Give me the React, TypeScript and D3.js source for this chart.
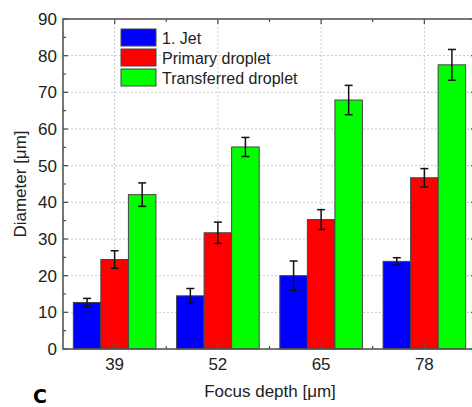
import React, { useEffect, useRef } from "react";
import * as d3 from "d3";

const categories = ["39", "52", "65", "78"];
const seriesNames = ["1. Jet", "Primary droplet", "Transferred droplet"];
const seriesColors = ["#0000ff", "#ff0000", "#00ff00"];
const jet = [12.7, 14.5, 20.0, 23.9];
const jetErr = [1.1, 2.0, 4.0, 1.0];
const primary = [24.4, 31.7, 35.3, 46.7];
const primaryErr = [2.4, 2.9, 2.7, 2.5];
const transferred = [42.1, 55.1, 67.9, 77.5];
const transferredErr = [3.2, 2.6, 4.0, 4.2];
const yTicks = [0, 10, 20, 30, 40, 50, 60, 70, 80, 90];

const App = () => {
  const svgRef = useRef<SVGSVGElement>(null);

  useEffect(() => {
    const svg = d3.select(svgRef.current);
    svg.selectAll("*").remove();

    const left = 63;
    const right = 476;
    const top = 19;
    const bottom = 349;
    const font = "'Liberation Sans', Arial, sans-serif";

    const x = d3
      .scaleBand()
      .domain(categories)
      .range([left, right])
      .paddingInner(0.2)
      .paddingOuter(0.1);
    const inner = d3
      .scaleBand()
      .domain(seriesNames)
      .range([0, x.bandwidth()]);
    const y = d3.scaleLinear().domain([0, 90]).range([bottom, top]);

    const values = [jet, primary, transferred];
    const errs = [jetErr, primaryErr, transferredErr];
    const center = (c) => x(c) + x.bandwidth() / 2;

    // grid
    const grid = svg.append("g");
    grid
      .selectAll(".hg")
      .data(yTicks.filter((t) => t > 0 && t < 90))
      .enter()
      .append("line")
      .attr("x1", left)
      .attr("x2", right)
      .attr("y1", (d) => y(d))
      .attr("y2", (d) => y(d))
      .attr("stroke", "#c8c8c8")
      .attr("stroke-dasharray", "2 2");
    grid
      .selectAll(".vg")
      .data(categories)
      .enter()
      .append("line")
      .attr("x1", (d) => center(d))
      .attr("x2", (d) => center(d))
      .attr("y1", top)
      .attr("y2", bottom)
      .attr("stroke", "#c8c8c8")
      .attr("stroke-dasharray", "2 2");

    // bars
    seriesNames.forEach((s, si) => {
      const g = svg.append("g");
      g.selectAll("rect")
        .data(categories)
        .enter()
        .append("rect")
        .attr("x", (c) => x(c) + inner(s))
        .attr("width", inner.bandwidth())
        .attr("y", (c, i) => y(values[si][i]))
        .attr("height", (c, i) => y(0) - y(values[si][i]))
        .attr("fill", seriesColors[si])
        .attr("stroke", "#444")
        .attr("stroke-width", 1);

      categories.forEach((c, i) => {
        const cx = x(c) + inner(s) + inner.bandwidth() / 2;
        const lo = y(values[si][i] - errs[si][i]);
        const hi = y(values[si][i] + errs[si][i]);
        g.append("line")
          .attr("x1", cx)
          .attr("x2", cx)
          .attr("y1", lo)
          .attr("y2", hi)
          .attr("stroke", "#111")
          .attr("stroke-width", 1.5);
        [lo, hi].forEach((yy) => {
          g.append("line")
            .attr("x1", cx - 4)
            .attr("x2", cx + 4)
            .attr("y1", yy)
            .attr("y2", yy)
            .attr("stroke", "#111")
            .attr("stroke-width", 1.5);
        });
      });
    });

    // axes frame
    const axisColor = "#555";
    svg
      .append("rect")
      .attr("x", left)
      .attr("y", top)
      .attr("width", right - left)
      .attr("height", bottom - top)
      .attr("fill", "none")
      .attr("stroke", axisColor)
      .attr("stroke-width", 1.6);

    const yMinor = d3.range(5, 90, 10);
    const ticks = svg.append("g").attr("stroke", axisColor).attr("stroke-width", 1.3);
    yTicks.forEach((t) => {
      ticks.append("line").attr("x1", left).attr("x2", left + 5).attr("y1", y(t)).attr("y2", y(t));
      ticks.append("line").attr("x1", right).attr("x2", right - 5).attr("y1", y(t)).attr("y2", y(t));
    });
    yMinor.forEach((t) => {
      ticks.append("line").attr("x1", left).attr("x2", left + 3).attr("y1", y(t)).attr("y2", y(t));
      ticks.append("line").attr("x1", right).attr("x2", right - 3).attr("y1", y(t)).attr("y2", y(t));
    });
    categories.forEach((c, i) => {
      const cx = center(c);
      ticks.append("line").attr("x1", cx).attr("x2", cx).attr("y1", bottom).attr("y2", bottom - 5);
      ticks.append("line").attr("x1", cx).attr("x2", cx).attr("y1", top).attr("y2", top + 5);
      if (i > 0) {
        const mx = (cx + center(categories[i - 1])) / 2;
        ticks.append("line").attr("x1", mx).attr("x2", mx).attr("y1", bottom).attr("y2", bottom - 3);
        ticks.append("line").attr("x1", mx).attr("x2", mx).attr("y1", top).attr("y2", top + 3);
      }
    });

    // tick labels
    svg
      .append("g")
      .selectAll("text")
      .data(yTicks)
      .enter()
      .append("text")
      .attr("x", left - 6)
      .attr("y", (d) => y(d))
      .attr("dy", "0.36em")
      .attr("text-anchor", "end")
      .attr("font-family", font)
      .attr("font-size", 17)
      .attr("fill", "#222")
      .text((d) => d);
    svg
      .append("g")
      .selectAll("text")
      .data(categories)
      .enter()
      .append("text")
      .attr("x", (d) => center(d))
      .attr("y", 370)
      .attr("text-anchor", "middle")
      .attr("font-family", font)
      .attr("font-size", 17)
      .attr("fill", "#222")
      .text((d) => d);

    // axis titles
    svg
      .append("text")
      .attr("x", 270)
      .attr("y", 397)
      .attr("text-anchor", "middle")
      .attr("font-family", font)
      .attr("font-size", 17)
      .attr("fill", "#222")
      .text("Focus depth [μm]");
    svg
      .append("text")
      .attr("transform", "translate(26, 184) rotate(-90)")
      .attr("text-anchor", "middle")
      .attr("font-family", font)
      .attr("font-size", 17)
      .attr("fill", "#222")
      .text("Diameter [μm]");

    svg
      .append("text")
      .attr("x", 33)
      .attr("y", 403)
      .attr("font-family", "'DejaVu Sans', sans-serif")
      .attr("font-weight", "bold")
      .attr("font-size", 19)
      .attr("fill", "#000")
      .text("C");

    // legend
    const legend = svg.append("g");
    seriesNames.forEach((s, i) => {
      const ly = 29 + i * 20;
      legend
        .append("rect")
        .attr("x", 121)
        .attr("y", ly)
        .attr("width", 35)
        .attr("height", 17)
        .attr("fill", seriesColors[i])
        .attr("stroke", "#444")
        .attr("stroke-width", 1);
      legend
        .append("text")
        .attr("x", 162)
        .attr("y", ly + 9)
        .attr("dy", "0.36em")
        .attr("font-family", font)
        .attr("font-size", 16)
        .attr("fill", "#222")
        .text(s);
    });
  }, []);

  return (
    <div style={{ position: "absolute", left: 0, top: 0 }}>
      <svg ref={svgRef} width={472} height={407} style={{ display: "block", background: "#fff" }}></svg>
    </div>
  );
};

export default App;
